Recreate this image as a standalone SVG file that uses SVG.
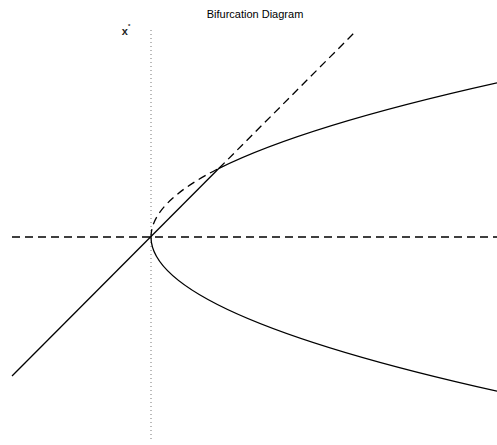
<svg xmlns="http://www.w3.org/2000/svg" width="497" height="445" viewBox="0 0 497 445">
<style>
  .solid { fill: none; stroke: #000; stroke-width: 1.3; }
  .dash { fill: none; stroke: #000; stroke-width: 1.3; stroke-dasharray: 8,5; }
  .dot { fill: none; stroke: #777; stroke-width: 1; stroke-dasharray: 1,3; }
  .title { font-family: "Liberation Sans", Arial, sans-serif; font-size: 11px; fill: #000; }
  .lab { font-family: "Liberation Sans", Arial, sans-serif; font-size: 11px; font-weight: bold; fill: #222; }
</style>
<rect width="497" height="445" fill="#fff"/>
<text class="title" x="255" y="18" text-anchor="middle">Bifurcation Diagram</text>
<text class="lab" x="126" y="35" text-anchor="middle">x<tspan dy="-7" font-size="6">*</tspan></text>
<g id="axes">
  <line class="dot" x1="151" y1="30" x2="151" y2="442"/>
  <line class="dash" x1="12" y1="237" x2="497" y2="237"/>
</g>
<g id="connectors">
  <line class="solid" x1="12" y1="376" x2="219" y2="168.3"/>
  <line class="dash" x1="219" y1="168.3" x2="355" y2="32"/>
  <path class="dash" d="M151,237 Q151,202.6 219,168.3"/>
  <path class="solid" d="M219,168.3 Q305,125.6 497,82.8"/>
  <path class="solid" d="M151,237 Q151,314 497,391.2"/>
</g>
</svg>
